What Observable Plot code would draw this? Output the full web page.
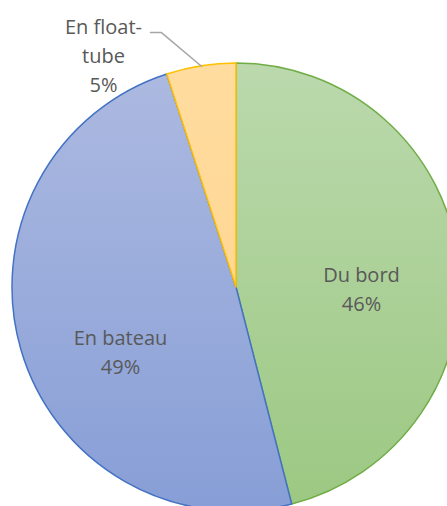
<!DOCTYPE html>
<html><head><meta charset="utf-8">
<script src="https://cdn.jsdelivr.net/npm/d3@7"></script>
<script src="https://cdn.jsdelivr.net/npm/@observablehq/plot@0.6"></script>
<style>html,body{margin:0;padding:0;background:#fff;overflow:hidden;width:447px;height:506px}</style>
</head><body><div id="chart"></div>
<script>
const categories = ["Du bord", "En bateau", "En float-tube"];
const values = [46, 49, 5];
const labelTexts = ["Du bord", "En bateau", "En float-\ntube"];

// styling / layout (not data)
const fills = [["#bbd9ad", "#9cc882"], ["#adbae1", "#879ed6"], ["#ffdc9f", "#ffd28a"]];
const strokes = ["#70ad47", "#4472c4", "#ffc000"];
const labelPos = [[0.558, 0.0], [-0.518, -0.279], [-0.594, 1.045]];
const leaderElbow = [[-0.384, 1.138], [-0.335, 1.138]];

const total = d3.sum(values);
const arcs = d3.pie().sort(null).value(d => d)(values);
const data = categories.map((c, i) => ({
  category: c, value: values[i], pct: Math.round(values[i] / total * 100),
  start: arcs[i].startAngle, end: arcs[i].endAngle,
  label: labelTexts[i] + "\n" + Math.round(values[i] / total * 100) + "%",
  lx: labelPos[i][0], ly: labelPos[i][1]
}));
const fl = data[2];
const mid = (fl.start + fl.end) / 2;
const leader = [...leaderElbow, [Math.sin(mid), Math.cos(mid)]].map(([x, y]) => ({x, y}));

function pieMark(index, scales) {
  const cx = scales.x(0), cy = scales.y(0), r = scales.x(1) - scales.x(0);
  const g = d3.create("svg:g").attr("transform", `translate(${cx},${cy})`);
  const defs = g.append("defs");
  data.forEach((d, i) => {
    const lg = defs.append("linearGradient").attr("id", "grad" + i)
      .attr("gradientUnits", "userSpaceOnUse")
      .attr("x1", 0).attr("x2", 0).attr("y1", -r).attr("y2", r);
    lg.append("stop").attr("offset", 0).attr("stop-color", fills[i][0]);
    lg.append("stop").attr("offset", 1).attr("stop-color", fills[i][1]);
  });
  const arc = d3.arc().innerRadius(0).outerRadius(r);
  g.selectAll("path").data(data).join("path")
    .attr("d", d => arc({startAngle: d.start, endAngle: d.end}))
    .attr("fill", (d, i) => `url(#grad${i})`)
    .attr("stroke", (d, i) => strokes[i])
    .attr("stroke-width", 1.5)
    .attr("stroke-linejoin", "round");
  return g.node();
}

const chart = Plot.plot({
  width: 447,
  height: 506,
  x: {domain: [-1, 1], range: [12, 460], axis: null},
  y: {domain: [-1, 1], range: [511, 63], axis: null},
  style: {background: "#fff", fontFamily: "Open Sans", overflow: "hidden"},
  marks: [
    pieMark,
    Plot.line(leader, {x: "x", y: "y", stroke: "#a6a6a6", strokeWidth: 1.5}),
    Plot.text(data, {x: "lx", y: "ly", text: "label", fill: "#595959", fontSize: 20,
      lineHeight: 1.45, textAnchor: "middle", lineAnchor: "middle", fontFamily: "Open Sans"})
  ]
});
document.getElementById("chart").appendChild(chart);
</script>
</body></html>
